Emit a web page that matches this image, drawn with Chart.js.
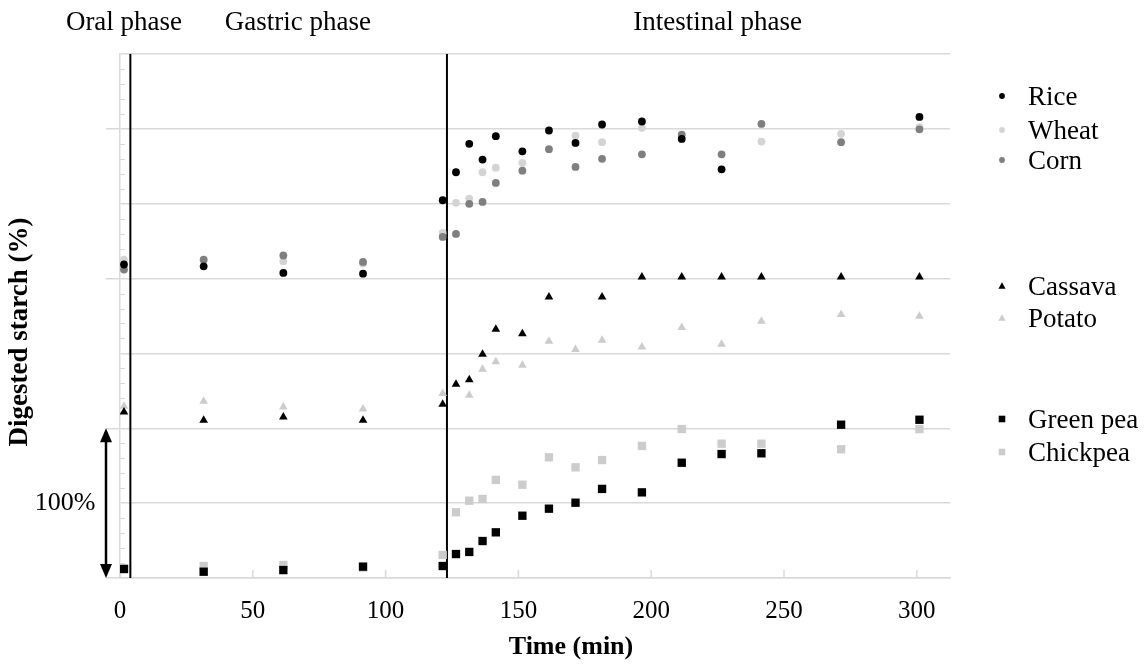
<!DOCTYPE html>
<html lang="en">
<head>
    <meta charset="UTF-8">
    <title>Digested starch</title>
    <script src="https://cdn.jsdelivr.net/npm/chart.js"></script>
    <style>
        html, body { margin: 0; padding: 0; background: #fff; }
        #wrap { width: 1147px; height: 664px; }
    </style>
</head>
<body>

<div id="wrap"><canvas id="starchChart" width="1147" height="664"></canvas></div>

<script>
    // sampling times (min)
    const times = [1.5, 31.5, 61.5, 91.5, 121.5, 126.5, 131.5, 136.5, 141.5, 151.5,
                   161.5, 171.5, 181.5, 196.5, 211.5, 226.5, 241.5, 271.5, 301];

    // digested starch (%) per food, each group drawn on its own 100% band
    const rice     = [9.4, 8.2, 3.8, 3.3, 52.3, 71.0, 90.0, 79.5, 95.1, 85.0, 98.9, 90.6, 102.9, 104.9, 93.3, 73.0, null, null, 108.0];
    const wheat    = [12.7, 12.0, 11.6, 10.0, 30.5, 50.6, 53.4, 71.0, 74.1, 77.3, null, 95.5, 91.1, 100.7, null, null, 91.5, 96.7, 101.1];
    const corn     = [6.0, 12.7, 15.4, 11.1, 27.8, 29.8, 49.9, 51.2, 63.9, 72.1, 86.4, 74.6, 80.0, 83.0, 96.2, 83.0, 103.3, 91.1, 99.7];
    const cassava  = [10.9, 5.3, 7.6, 5.3, 16.0, 29.4, 32.5, 49.4, 66.1, 63.2, 87.7, null, 87.7, 101, 101, 101, 101, 101, 101];
    const potato   = [14.7, 18.0, 14.3, 12.9, 23.2, null, 22.0, 39.4, 44.5, 42.1, 58.1, 52.6, 58.8, 54.3, 67.3, 56.1, 71.5, 76.0, 74.8];
    const greenPea = [6.0, 4.2, 5.3, 7.6, 8.0, 16.0, 17.4, 24.7, 30.5, 41.6, 46.3, 50.3, 59.5, 57.2, 77.0, 82.8, 83.3, 102.4, 105.7];
    const chickpea = [6.5, 8.0, 8.7, 7.0, 15.4, 43.9, 51.6, 52.8, 65.5, 62.3, 80.6, 73.9, 78.8, 88.2, 99.5, 89.7, 89.7, 86.0, 99.5];

    // vertical offset of each group (cereals on top, legumes at the bottom)
    const groupOffsets = { cereals: 200, tubers: 100, legumes: 0 };

    // phase boundaries (min) and phase labels
    const phaseLines = [3.9, 123.1];
    const phaseLabels = ['Oral phase', 'Gastric phase', 'Intestinal phase'];
    const phaseLabelX = [1.5, 67, 225];   // in minutes, centre of each label

    const xTicks = [0, 50, 100, 150, 200, 250, 300];

    const FONT = '"Liberation Serif", "Times New Roman", serif';

    function toPoints(values, offset) {
        return times.map((t, i) => values[i] === null ? null : { x: t, y: values[i] + offset });
    }

    function series(label, values, offset, color, style, radius, order) {
        return {
            label: label,
            data: toPoints(values, offset).filter(p => p !== null),
            showLine: false,
            pointStyle: style,
            pointRadius: radius,
            pointHoverRadius: radius,
            pointBackgroundColor: color,
            pointBorderColor: color,
            pointBorderWidth: 0,
            backgroundColor: color,
            borderColor: color,
            order: order
        };
    }

    const datasets = [
        series('Rice', rice, groupOffsets.cereals, '#000000', 'circle', 3.9, 1),
        series('Wheat', wheat, groupOffsets.cereals, '#d4d4d4', 'circle', 3.9, 3),
        series('Corn', corn, groupOffsets.cereals, '#7f7f7f', 'circle', 3.9, 2),
        series('Cassava', cassava, groupOffsets.tubers, '#000000', 'triangle', 5.0, 1),
        series('Potato', potato, groupOffsets.tubers, '#cccccc', 'triangle', 5.0, 2),
        series('Green pea', greenPea, groupOffsets.legumes, '#000000', 'rect', 5.9, 1),
        series('Chickpea', chickpea, groupOffsets.legumes, '#cccccc', 'rect', 5.9, 2)
    ];

    // legend rows (y in px) - gaps between groups like the original
    const legendRows = [96, 130, 160, 286, 318, 419, 452];

    function marker(ctx, style, color, x, y, r) {
        ctx.fillStyle = color;
        ctx.beginPath();
        if (style === 'circle') {
            ctx.arc(x, y, r, 0, Math.PI * 2);
        } else if (style === 'triangle') {
            ctx.moveTo(x, y - r);
            ctx.lineTo(x + r * 0.95, y + r * 0.7);
            ctx.lineTo(x - r * 0.95, y + r * 0.7);
            ctx.closePath();
        } else {
            ctx.rect(x - r, y - r, 2 * r, 2 * r);
        }
        ctx.fill();
    }

    const decorations = {
        id: 'decorations',
        beforeDatasetsDraw(chart) {
            const ctx = chart.ctx;
            const xs = chart.scales.x, ys = chart.scales.y;
            const area = chart.chartArea;
            ctx.save();
            // minor ticks on the y axis
            ctx.strokeStyle = '#d9d9d9';
            ctx.lineWidth = 1;
            for (let v = 10; v < 350; v += 10) {
                if (v % 50 === 0) continue;
                const py = Math.round(ys.getPixelForValue(v)) + 0.5;
                ctx.beginPath();
                ctx.moveTo(area.left, py);
                ctx.lineTo(area.left + 5, py);
                ctx.stroke();
            }
            // x ticks drawn inward
            ctx.lineWidth = 1.5;
            xTicks.forEach(t => {
                const px = xs.getPixelForValue(t);
                ctx.beginPath();
                ctx.moveTo(px, area.bottom);
                ctx.lineTo(px, area.bottom - 8);
                ctx.stroke();
            });
            // phase boundaries
            ctx.strokeStyle = '#000';
            ctx.lineWidth = 2;
            phaseLines.forEach(t => {
                const px = xs.getPixelForValue(t);
                ctx.beginPath();
                ctx.moveTo(px, area.top);
                ctx.lineTo(px, area.bottom);
                ctx.stroke();
            });
            ctx.restore();
        },
        afterDraw(chart) {
            const ctx = chart.ctx;
            const xs = chart.scales.x, ys = chart.scales.y;
            ctx.save();
            // phase labels
            ctx.fillStyle = '#000';
            ctx.font = '27px ' + FONT;
            ctx.textAlign = 'center';
            ctx.textBaseline = 'middle';
            phaseLabels.forEach((s, i) => {
                ctx.fillText(s, xs.getPixelForValue(phaseLabelX[i]), 23);
            });

            // 100% arrow across the legume band
            const ax = 106;
            const y0 = ys.getPixelForValue(0), y1 = ys.getPixelForValue(100);
            ctx.strokeStyle = '#000';
            ctx.lineWidth = 2.5;
            ctx.beginPath();
            ctx.moveTo(ax, y1 + 10);
            ctx.lineTo(ax, y0 - 10);
            ctx.stroke();
            ctx.fillStyle = '#000';
            ctx.beginPath();
            ctx.moveTo(ax, y1); ctx.lineTo(ax - 6, y1 + 14); ctx.lineTo(ax + 6, y1 + 14); ctx.closePath();
            ctx.fill();
            ctx.beginPath();
            ctx.moveTo(ax, y0); ctx.lineTo(ax - 6, y0 - 14); ctx.lineTo(ax + 6, y0 - 14); ctx.closePath();
            ctx.fill();
            ctx.font = '26px ' + FONT;
            ctx.textAlign = 'center';
            ctx.fillText('100%', 65, ys.getPixelForValue(50));

            // axis titles
            ctx.font = 'bold 26px ' + FONT;
            ctx.fillText('Time (min)', 571, 647);
            ctx.save();
            ctx.translate(20, 332);
            ctx.rotate(-Math.PI / 2);
            ctx.font = 'bold 27px ' + FONT;
            ctx.fillText('Digested starch (%)', 0, 0);
            ctx.restore();

            // legend
            ctx.textAlign = 'left';
            ctx.font = '27px ' + FONT;
            chart.data.datasets.forEach((ds, i) => {
                const y = legendRows[i];
                const r = ds.pointStyle === 'rect' ? 3.3 : (ds.pointStyle === 'triangle' ? 3.8 : 2.9);
                marker(ctx, ds.pointStyle, ds.pointBackgroundColor, 1002, y, r);
                ctx.fillStyle = '#000';
                ctx.fillText(ds.label, 1028, y + 2);
            });
            ctx.restore();
        }
    };

    new Chart(document.getElementById('starchChart'), {
        type: 'scatter',
        data: { datasets: datasets },
        options: {
            responsive: false,
            animation: false,
            events: [],
            layout: { padding: { top: 54, right: 197, left: 0, bottom: 0 } },
            plugins: {
                legend: { display: false },
                tooltip: { enabled: false }
            },
            scales: {
                x: {
                    type: 'linear',
                    min: 0,
                    max: 312.5,
                    afterFit: s => { s.height = 86; },
                    grid: { display: true, drawOnChartArea: false, drawTicks: false },
                    border: { display: true, color: '#d9d9d9', width: 1.5 },
                    ticks: {
                        stepSize: 50,
                        includeBounds: false,
                        padding: 18,
                        color: '#000',
                        font: { family: FONT, size: 25 }
                    }
                },
                y: {
                    min: 0,
                    max: 350,
                    afterFit: s => { s.width = 120; },
                    grid: {
                        color: '#d9d9d9',
                        lineWidth: 1.5,
                        drawTicks: true,
                        tickLength: 14,
                        tickColor: c => (c.tick && c.tick.value % 100 === 0) ? '#d9d9d9' : 'rgba(0,0,0,0)'
                    },
                    border: { display: true, color: '#d9d9d9', width: 1.5 },
                    ticks: { stepSize: 50, display: false }
                }
            }
        },
        plugins: [decorations]
    });
</script>

</body>
</html>
